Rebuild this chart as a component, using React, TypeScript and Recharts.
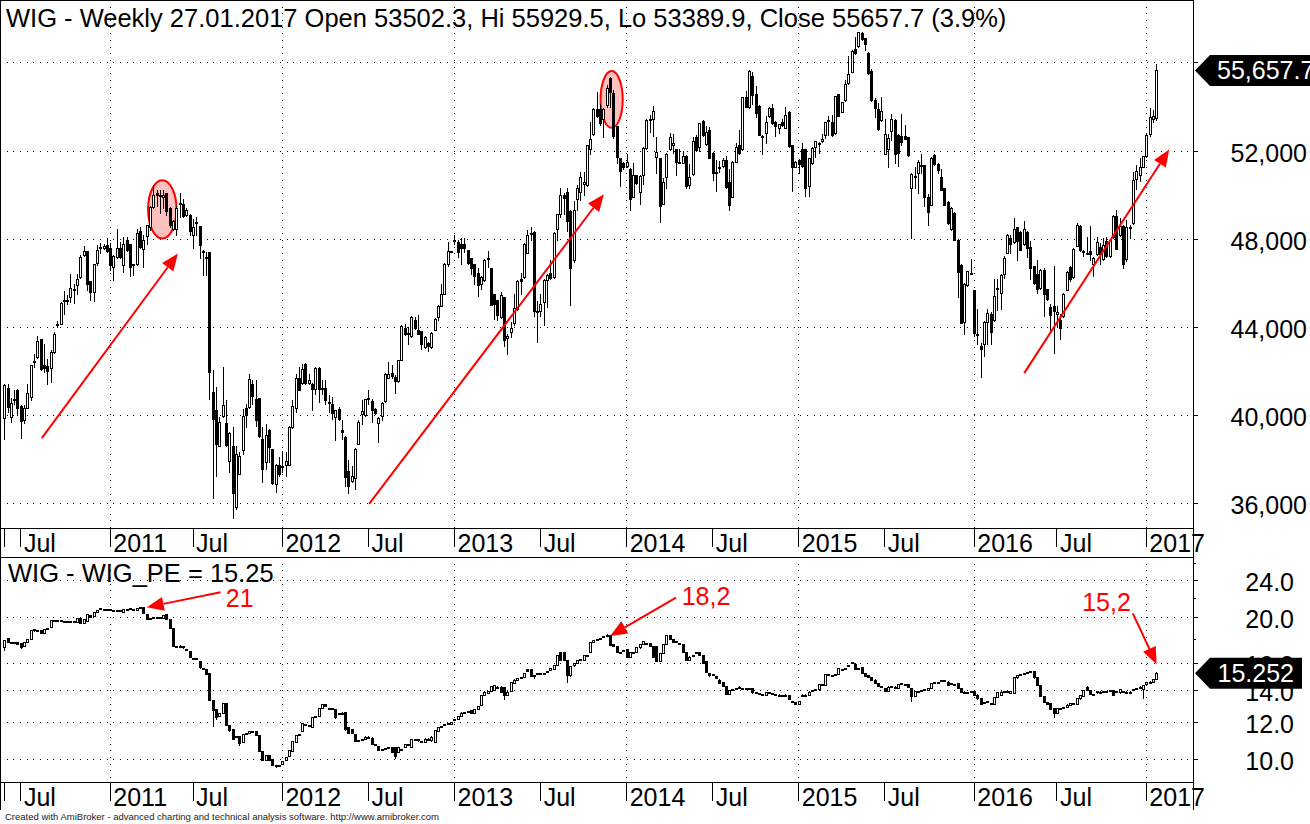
import { Bar, CartesianGrid, ComposedChart, ReferenceArea, ReferenceDot, ReferenceLine, XAxis, YAxis } from "recharts";

// weekly candles: open, high, low, close
const bars2010 = [
  [39900,41450,38960,41410],[41270,41450,40170,40400],[39940,40800,39710,40590],[40740,41150,40550,40770],[41150,41200,40020,40370],[40430,40470,38990,39760],[39820,40500,39670,40370],[40370,41450,40350,41030],
  [40850,42320,40700,42290],[42500,42820,42210,42470],[42660,43620,42630,43410],[43470,43500,42060,42120],[42320,43270,41980,42150],[42270,42590,41450,42030],[42180,42970,41530,42910],[42890,43800,42850,43690],
  [44130,44300,44030,44160],[44180,45160,44150,45130],[45230,45660,44630,45250],[45250,45460,45090,45230],[45390,46420,45160,45810],[45710,45990,45120,45730],[45920,46450,45510,46220],[46300,47280,46270,47220],
  [47280,47690,47230,47490],[47450,47460,45720,45960],[46100,46110,45240,45620],[45620,46870,45210,46860],[46930,47730,46830,47510],[47620,47840,47360,47640],[47630,47780,47580,47720],[47750,48040,47430,47460],
];
const bars2011 = [
  [47630,47840,46600,46840],[46750,47310,46140,47260],[47200,48490,47170,47630],[47630,47880,47170,47200],[46840,48110,46520,47810],[47990,48110,47480,47510],[47780,47810,46330,46750],[46860,46900,46370,46850],
  [46870,48490,46830,48310],[48370,48570,47610,47660],[47570,48190,46750,47990],[48160,48640,47780,48630],[48540,49500,48410,49470],[49470,50460,49440,50000],[50120,50230,49500,50000],[50000,50260,49200,50010],
  [49900,50230,49400,49990],[50080,50110,49090,49290],[49440,49470,48570,48640],[48490,48870,48440,48840],[48490,49500,48190,49440],[49610,50110,49020,49630],[49620,49810,49020,49060],[49090,49440,49050,49350],
  [49120,49170,48190,48380],[48190,48940,47630,48540],[48750,49020,48190,48770],[48600,48600,47170,47750],[47460,47510,46400,47490],[47200,47430,46370,47140],[47430,47430,40770,41980],[41090,42090,36260,39870],
  [40270,41300,37290,38700],[38640,39940,38610,39740],[39970,42210,39940,40500],[39680,40700,38650,38680],[37970,39260,37440,39220],[38650,39490,35360,36490],[35860,38650,35780,38250],[37370,38350,37340,38160],
  [38460,40320,38250,40000],[40330,40550,39490,40020],[40400,41880,40370,41680],[41420,41600,40550,40890],[40770,41600,39520,39790],[40790,40790,39060,39080],[38960,39490,36990,37580],[37900,39640,37600,39140],
  [39370,39400,37900,38580],[38500,38500,36920,36950],[36920,37820,36540,37780],[37750,38130,37290,37370],
];
const bars2012 = [
  [37710,38400,37440,37690],[37760,38350,37290,37960],[37760,39520,37750,39490],[39490,40730,39460,40460],[40370,41910,40170,41730],[41730,42210,41150,41180],[41480,42360,41450,42140],[42330,42390,41450,41500],
  [41500,41910,41420,41640],[41420,41490,40280,41200],[41230,42210,41000,42180],[42180,42210,40620,41200],[41240,41610,41000,41210],[41270,41640,40550,40730],[40610,40930,40170,40640],[40550,40850,39870,40120],
  [39940,40280,38880,40240],[40320,40400,39790,39840],[39370,39820,38960,39260],[39060,39070,36800,37220],[37480,37980,36490,36810],[37040,37700,36990,37260],[37190,38540,36690,38500],[38730,39820,38700,39720],
  [40090,40700,39640,40200],[40020,40780,39970,40770],[40760,41150,40550,40790],[40650,40780,39720,40280],[40320,40370,40090,40120],[39670,39940,38810,39910],[39970,40620,39790,40580],[40670,41940,40640,41880],
  [41730,42440,41710,41910],[41950,42290,41730,41820],[41760,41830,41030,41560],[41580,42540,41530,42510],[42540,44100,42510,44070],[44000,44180,43650,43690],[43740,44030,43270,43710],[43620,44510,43570,44480],
  [44360,44480,43950,43980],[43910,44560,43690,43720],[43830,43850,43040,43240],[43120,43600,43090,43570],[43300,43350,42940,43150],[43120,43800,43090,43770],[43910,44440,43880,44410],[44480,45010,44360,44980],
  [45000,45960,44970,45540],[45540,46930,45510,46900],[46900,47890,46800,47480],[47440,47480,47420,47460],
];
const bars2013 = [
  [47930,48190,47810,47950],[47890,47960,47200,47430],[47810,48040,46870,47630],[47810,48040,47430,47610],[47540,47540,46900,46930],[47170,47170,46450,46720],[46870,46900,45960,46330],[46490,46680,45420,45950],
  [45990,46330,45770,46300],[46150,47110,46120,47080],[47120,47460,46750,47140],[46690,46720,45010,45040],[45510,45540,44410,45090],[45240,45270,44330,44560],[44480,45620,44450,45490],[45370,45400,43150,43450],
  [43540,43690,42820,43630],[43790,44250,43570,43980],[44210,45540,44100,44900],[44860,46150,44810,46100],[46220,46480,45540,46120],[46300,47840,46270,47810],[47400,48410,47360,48220],[48280,48570,47960,48300],
  [48350,48390,44510,44750],[44760,45210,43350,44740],[44750,45540,44510,45090],[45160,46220,44100,46150],[46150,46450,44930,46400],[46490,47050,46220,46270],[46300,48340,46270,48310],[48450,49170,47960,49130],
  [49140,50310,49020,50000],[50030,50110,49170,49880],[50140,50310,48390,48840],[49290,49320,45030,46700],[47050,49750,46980,49350],[49840,50460,49320,50310],[50150,51060,49780,50810],[50490,51060,50000,50610],
  [50460,52300,50410,52260],[52080,53320,51860,52560],[52760,53940,52730,53890],[53890,54660,53560,53590],[53890,54160,53180,53290],[53440,53940,52620,53890],[54070,55000,54010,54850],[55300,55340,54010,54690],
  [54620,54770,52580,52680],[53130,53140,51470,51740],[51700,51710,50410,51110],[51440,51520,51210,51260],
];
const bars2014 = [
  [51340,51850,51260,51490],[51210,51240,49320,49810],[49930,51440,49900,50940],[50910,50940,50530,50560],[50160,50910,49600,50870],[50940,52170,50530,52140],[52150,53440,52120,53410],[53440,53640,52880,53460],
  [53440,54040,52680,53820],[51740,52650,51020,51940],[51670,51700,48790,49520],[49620,50790,49600,50580],[50810,51930,50350,51870],[52080,52830,52050,52650],[52300,52770,51930,52390],[52080,52110,50910,51520],
  [51510,52120,51440,51490],[51470,52000,51440,51790],[51770,51820,50310,50430],[50460,51410,50310,50840],[50960,52620,50910,52440],[52650,52730,52020,52060],[52200,53290,52020,53260],[53360,53410,52680,52730],
  [52320,53140,52270,52880],[52980,53110,51670,51710],[51900,51940,50690,50990],[51040,51620,50200,51060],[51280,51560,51060,51300],[51340,51710,51290,51620],[51620,51770,50350,50380],[50580,51170,49320,49570],
  [49930,51560,49900,51530],[51530,52380,51500,52170],[52270,52980,51870,51900],[52080,54470,52050,54440],[54470,54740,53980,54010],[53980,55680,53940,55650],[55430,55600,54160,54560],[54590,54950,53560,53740],
  [54040,54070,52710,52740],[52690,52730,51870,52670],[52830,53590,52380,53330],[53600,53980,53560,53940],[53940,54130,53230,53260],[53330,53360,52680,53140],[53030,53240,52830,53210],[53330,53480,53140,53180],
  [53060,53980,53030,53650],[53760,53820,52200,52240],[52270,52300,50200,51290],[51290,51560,51260,51530],
];
const bars2015 = [
  [51620,51650,50990,51400],[52080,52380,51290,51320],[52080,52110,49960,50310],[50410,51700,49970,51670],[51440,52170,51410,52140],[52200,52470,51740,52440],[52370,52410,51900,52390],[52440,52800,52410,52560],
  [52740,53330,52580,53300],[53400,53610,52730,53420],[53300,53640,52700,52740],[52830,54510,52800,54480],[54570,54590,53590,53610],[53790,54240,53760,54210],[54300,55220,54270,55030],[55070,56310,55040,55480],
  [55600,56590,55570,56540],[56620,57160,56400,56450],[56770,57420,56740,57390],[57370,57400,57040,57090],[57120,57150,56590,56840],[56450,56480,55500,55530],[55630,55710,54270,54300],[54320,54390,53560,53970],
  [53890,54200,52950,53000],[53390,54440,53360,53830],[51880,53440,51850,52760],[52120,52800,51290,52580],[52920,53670,52500,53440],[53410,53440,51440,51870],[52740,52770,51340,51900],[52680,53680,52300,52410],
  [52700,53180,52530,52560],[52620,52650,51800,51840],[50310,51000,48080,50970],[50860,51260,50310,50880],[51030,51590,50080,51530],[51370,51850,50990,51350],[51350,51380,49520,49930],[49900,50050,48660,49250],
  [49580,51740,49550,51710],[51840,51870,51370,51410],[51410,51440,50990,51140],[50810,51210,50230,50260],[50310,50340,49550,49580],[49690,49720,48690,48720],[48450,49470,48420,49440],[49200,49230,47960,47990],
  [47990,48020,45390,46520],[46830,46860,44210,44220],[44250,46020,43730,45990],[45920,46580,45870,46550],[46470,47130,46420,46490],
];
const bars2016 = [
  [45690,45720,43600,43750],[43720,44860,43240,43700],[43150,43300,41760,43030],[43270,44280,42730,44250],[44250,44860,43240,44680],[44630,44690,43240,43800],[44330,46220,44300,45430],[45770,46220,44810,45790],
  [45590,46450,44840,46370],[46450,47240,46270,47170],[47390,48260,47360,48220],[48040,48220,47360,47780],[47880,48990,47850,48490],[48540,48570,47080,47930],[48340,48370,47510,47540],[47780,48820,47750,48450],
  [48350,48390,47200,47630],[47660,47930,46220,46680],[46780,46810,45960,46020],[46450,47080,45570,45770],[45800,46660,45770,46630],[46630,46680,44530,45500],[45740,45770,45270,45310],[44930,45090,43880,44560],
  [44980,46780,42850,44750],[44630,44970,44030,44720],[44330,44630,43500,43980],[44510,45570,44480,45540],[45720,46570,45690,46540],[46750,46780,46120,46180],[46300,47610,46270,47580],[47720,48720,47690,48640],
  [48600,48630,47480,47510],[47450,47510,47240,47430],[47390,48110,47330,47370],[47480,48600,47050,47330],[46900,47200,46330,47170],[47330,48110,47300,47860],[47660,47840,46900,47330],[47130,48040,47050,47730],
  [47930,48110,47200,47240],[47240,47990,47200,47960],[48110,49110,48080,49080],[49050,49320,47550,47580],[48190,48980,48160,48610],[48610,48640,46700,46900],[47100,48900,47010,48570],[48530,48640,48040,48550],
  [48720,51060,48690,50710],[50730,51370,50290,51110],[50940,51710,50650,51290],[51290,51800,51260,51770],
];
const bars2017 = [[51770,52770,51740,52710],[52800,53940,52680,53530],[53440,53860,53330,53590],[53502.3,55929.5,53389.9,55657.7]];

// WIG_PE candles: open, close and, where a wick shows, high, low
const pe2010 = [
  [17.35,17.95,17.95,17.1],[18.1,17.75],[17.75,17.75],[17.75,17.7],[17.75,17.6],[17.7,17.35,17.7,17.25],[17.4,17.75],[17.75,18.05],[18,18.8],[18.8,18.9],[18.85,18.8],[18.8,18.55],[18.6,18.9],[18.95,19],[19.1,19.75],[19.75,19.8],
  [19.8,19.8],[19.75,19.7],[19.7,19.65],[19.65,19.65],[19.65,19.6],[19.6,19.65],[19.6,19.95],[20,19.5],[19.5,19.9],[19.7,20.4],[20.3,20.1],[20.15,20.6],[20.55,20.8],[20.9,20.95],[20.9,20.85],[20.85,20.8],
];
const pe2011 = [
  [20.85,20.85],[20.8,20.8],[20.8,20.75],[20.75,20.75],[20.6,20.9],[20.9,20.9],[20.9,20.95],[20.85,20.85],[20.75,21],[21.05,21.1],[21.05,20.45],[20.4,19.85],[19.85,20],[20,20.05],[20.1,20.1],[20.1,20.1],[20,20.3],[20.35,19.9],[19.9,19.05],[19.05,17.4],
  [17.4,17.4],[17.4,17.4,17.55,17.4],[17.4,17.3],[17.15,17.1],[17,16.5],[16.45,16.4],[16.4,16.4],[16.2,15.7],[15.65,15.6],[15.6,15.2],[15.25,13.4],[13.4,12.75,13.4,11.8],[12.8,12.35,12.8,12.2],[12.4,12.55],[12.55,13.2],[13.2,11.85],
  [11.85,11.55],[11.6,11.1],[11.25,11.2],[11.25,10.85,11.25,10.75],[10.9,11.35],[11.35,11.4],[11.4,11.5],[11.5,11.5],[11.5,11.3],[11.3,10.45],[10.45,10],[10,10.25],[10.25,10],[10.05,9.75],[9.75,9.75,9.75,9.65],[9.75,9.75],
];
const pe2012 = [
  [9.8,9.95],[10,10.15],[10.2,10.5],[10.45,10.95],[10.9,11.3],[11.3,11.35],[11.5,11.95],[11.9,11.9],[11.85,11.8],[11.75,12.3],[12.35,12.4],[12.4,12.9],[12.9,13.15],[13.15,13],[12.9,12.9],[12.85,12.85],[12.8,12.3],[12.55,12.55],[12.6,12.6],[12.65,11.6],
  [11.75,11.4],[11.6,11.4],[11.35,10.95],[11,11],[11.05,11.05],[11.1,11.2],[11.2,11.2],[11.15,10.8],[10.8,10.75],[10.7,10.5],[10.55,10.55],[10.6,10.6],[10.6,10.65],[10.65,10.4],[10.65,10.2,10.65,10.1],[10.4,10.65],
  [10.55,10.55],[10.65,10.8],[10.8,10.8],[10.65,11.05],[11.05,11.05],[11.05,11],[10.95,10.95],[10.9,11.1],[11.1,11.1],[11,11.2],[10.9,11.55],[11.5,11.75],[11.75,11.8],[11.9,11.9],[11.95,11.95],[11.9,12.05],
];
const pe2013 = [
  [12.2,12.2],[12.2,12.4],[12.4,12.6],[12.65,12.65],[12.7,12.65],[12.75,12.55],[12.6,12.8],[12.8,13],[13.05,13.7],[13.7,13.95],[13.85,14],[14,14.35],[14.05,14.4],[14.3,14.2],[14.3,13.95],[14.3,13.7,14.3,13.45],[13.75,13.95],[14,14.6],[14.55,14.8],[14.8,14.9],
  [14.95,15],[15,15.25],[15.55,15.45],[15.6,15.05],[15.15,15.05,15.15,14.9],[15.2,15.25],[15.3,15.3],[15.3,15.3],[15.35,15.45],[15.5,15.65],[15.6,15.9],[15.9,16.7],[16.9,16.3],[16.9,16.3],[16.3,15.1,16.3,14.65],[15.1,15.8],
  [15.85,16.05],[16.05,16.3],[16.35,16.35],[16.3,16.65],[16.7,16.7],[16.9,17.75],[17.75,17.95],[18,18],[18.1,18.1],[18.3,18.3],[18.35,18.35,18.45,18.3],[18.35,17.55],[17.6,17.4],[17.4,16.95],[16.95,16.95],[17,17.05],
];
const pe2014 = [
  [17.2,16.5],[16.55,16.95],[16.9,16.9],[16.9,17.3],[17.3,17.6],[17.6,17.85],[17.7,17.7],[17.7,17.45],[17.45,16.55],[17.45,16.2],[16.2,16.85],[16.85,17.6],[17.6,18.4],[18.4,18],[18,17.8],[17.85,17.85],[17.7,17.7],[17.6,16.9],[16.95,16.3],[16.3,16.55],
  [16.65,16.7],[16.85,16.9],[16.9,16.65],[16.65,16.05],[16.2,15.35],[15.3,15.1],[15.2,15.2],[15.05,14.9],[14.8,14.55],[14.6,14.35],[14.35,13.8],[13.8,14.05],[14.1,14.1],[14.2,14.2],[14.3,14.3],[14.2,14.2],
  [14.2,14.2],[14.2,14.2],[14.2,13.9],[13.9,13.9],[13.85,13.85],[13.8,13.8],[13.7,13.9],[13.9,13.9],[13.85,13.85],[13.8,13.8],[13.75,13.75],[13.7,13.7],[13.75,13.75],[13.7,13.45],[13.3,13.3],[13.25,13.15],
];
const pe2015 = [
  [13.15,13.35],[13.75,13.75],[13.75,13.75],[13.75,13.95],[14.05,14.05],[14.1,14.1],[14.1,14.45],[14.5,14.5],[14.4,15.2],[15.2,15.2],[15.15,15.15],[15.2,15.2],[15.2,15.65],[15.6,15.6],[15.65,15.65],[15.9,15.9],[16.1,16.1],[16,15.6],[15.65,15.65],[15.7,15.25],
  [15.25,15.05],[15.1,15],[15,14.75],[14.8,14.55],[14.55,14.35],[14.35,14.35],[14.2,14],[14,14.3],[14.3,14.35],[14.3,14.3],[14.2,14.5],[14.55,14.55],[14.5,14.5],[14.45,14.3],[14.2,13.65,14.2,13.3],[13.65,14],
  [14,14],[14.05,14.05],[14.15,14.15],[14.05,14.2],[14.2,14.55],[14.6,14.6],[14.6,14.6],[14.75,14.75],[14.75,14.75],[14.65,14.4],[14.55,14.55],[14.5,14.5],[14.55,14.2],[14.2,13.95],[13.95,13.95],[13.9,13.9],[14,14],
];
const pe2016 = [
  [14,13.75],[13.75,13.5],[13.5,13.15],[13.25,13.25],[13.3,13.3],[13.2,13.2],[13.15,13.6],[13.6,13.9],[13.7,13.95],[14,14],[14,14],[13.85,14],[13.85,15],[14.95,15.1],[15.2,15.2],[15.3,15.3],[15.35,15.35],[15.45,15.45],[15.45,14.95],[14.95,14.4],
  [14.4,13.65],[13.65,13.25],[13.25,13.15],[13.2,12.8],[12.9,12.55,12.9,12.35],[12.6,12.9],[12.9,12.9],[12.95,12.95],[12.95,13.1],[13.05,13.2],[13.2,13.2],[13.15,13.5],[13.5,13.7],[13.65,14.05],[14.3,14.05],[14.05,13.8],
  [13.8,13.8],[13.9,14],[13.95,13.95],[14,14],[14,14],[14.05,14.05],[14.05,13.7],[14,14],[13.9,14.1],[14,14],[13.95,13.95],[13.95,13.95],[14.05,14.15],[14.2,14.2],[14.2,14.3],[14.1,14.4,14.4,13.5],
];
const pe2017 = [[14.45,14.6],[14.65,14.65],[14.65,14.85],[14.85,15.252,15.33,14.85]];

const priceTicks = [36000, 40000, 44000, 48000, 52000, 56000];
const peTicks = [10, 12, 14, 16, 20, 24];
const peMinorTicks = [18, 22, 26];
const dateTickWeeks = [0, 5, 32, 57, 84, 110, 136, 162, 188, 214, 240, 266, 293, 318, 345];
const dateTickLabels = ["", "Jul", "2011", "Jul", "2012", "Jul", "2013", "Jul", "2014", "Jul", "2015", "Jul", "2016", "Jul", "2017"];
const yearWeeks = [32, 84, 136, 188, 240, 293, 345];

// annotations in chart units: from week, from value, to week, to value
const priceArrows = [[11.3, 38984, 52.4, 47356], [110.2, 36006, 181.1, 50048], [308.1, 41935, 351.9, 52077]];
const priceEllipses = [[43.4, 52, 48037, 50683], [180.1, 186.8, 53058, 55632]];
const peArrows = [[65.3, 22.64, 43, 21.05], [202.9, 22.05, 183, 18.3], [340.9, 20.43, 348.1, 15.94]];
const peNotes = [["21", 66.9, 21.07], ["18,2", 204.6, 21.28], ["15,2", 325.6, 20.7]];

const priceRows = [...bars2010, ...bars2011, ...bars2012, ...bars2013, ...bars2014, ...bars2015, ...bars2016, ...bars2017];
const peRows = [...pe2010, ...pe2011, ...pe2012, ...pe2013, ...pe2014, ...pe2015, ...pe2016, ...pe2017];
const lastWeek = 348;

const priceData = priceRows.map((r, i) => ({
  week: lastWeek - (priceRows.length - 1 - i),
  o: r[0], h: r[1], l: r[2], c: r[3],
}));
const peData = peRows.map((r, i) => ({
  week: lastWeek - (peRows.length - 1 - i),
  o: r[0], c: r[1],
  h: r[2] ?? Math.max(r[0], r[1]) + 0.01,
  l: r[3] ?? Math.min(r[0], r[1]) - 0.01,
}));
const lastClose = 55657.7;
const lastPe = 15.252;

const FONT = "'Liberation Sans', Arial, sans-serif";
const weekDomain = [-1.33, 359.09];

const makeCandle = (isLog: boolean) => (props: any) => {
  const { x, y, width, height, payload } = props;
  const { o, h, l, c } = payload;
  const frac = (v: number) => (isLog ? Math.log(h / v) / Math.log(h / l) : (h - v) / (h - l));
  const yOf = (v: number) => Math.round(y + frac(v) * height);
  const cx = Math.round(x + width / 2);
  const top = yOf(Math.max(o, c));
  const bottom = yOf(Math.min(o, c));
  const up = c >= o;
  return (
    <g shapeRendering="crispEdges">
      <line x1={cx + 0.5} x2={cx + 0.5} y1={yOf(h)} y2={yOf(l) + 1} stroke="#000" />
      <rect
        x={cx - 0.5}
        y={top + 0.5}
        width={2}
        height={Math.max(bottom - top, 1)}
        fill={up ? "#fff" : "#000"}
        stroke="#000"
      />
    </g>
  );
};

const Arrow = (props: any) => {
  const { x1, y1, x2, y2 } = props;
  const a = Math.atan2(y2 - y1, x2 - x1);
  const len = 17;
  const half = 7;
  const bx = x2 - len * Math.cos(a);
  const by = y2 - len * Math.sin(a);
  const px = half * Math.sin(a);
  const py = half * Math.cos(a);
  return (
    <g>
      <line x1={x1} y1={y1} x2={bx} y2={by} stroke="#ff0000" strokeWidth={2} />
      <polygon points={`${x2},${y2} ${bx + px},${by - py} ${bx - px},${by + py}`} fill="#ff0000" />
    </g>
  );
};

const Ellipse = (props: any) => {
  const { x, y, width, height } = props;
  return (
    <ellipse cx={x + width / 2} cy={y + height / 2} rx={width / 2} ry={height / 2} fill="#ffc0c0" stroke="#ff0000" strokeWidth={2} />
  );
};

const DateTick = (props: any) => {
  const { x, y, payload } = props;
  const label = dateTickLabels[dateTickWeeks.indexOf(payload.value)];
  return (
    <g>
      <line x1={x} x2={x} y1={y} y2={y + 19} stroke="#000" shapeRendering="crispEdges" />
      <text x={x + 3} y={y + 24} fontSize={25} fontFamily={FONT} fill="#000">{label}</text>
    </g>
  );
};

const Tag = ({ x, y, right, textX, anchor, text }: any) => (
  <g>
    <polygon
      points={`${x + 2},${y} ${x + 17},${y - 15.5} ${right},${y - 15.5} ${right},${y + 15.5} ${x + 17},${y + 15.5}`}
      fill="#000"
    />
    <text x={textX} y={y + 9} textAnchor={anchor} fontSize={25} fontFamily={FONT} fill="#fff">{text}</text>
  </g>
);

const PriceTick = (props: any) => {
  const { x, y, payload } = props;
  if (payload.value === lastClose) {
    return <Tag x={x} y={y} right={1310} textX={1217} anchor="start" text={lastClose.toLocaleString("en-US")} />;
  }
  return (
    <g>
      <line x1={x} x2={x + 5} y1={y} y2={y} stroke="#000" shapeRendering="crispEdges" />
      <text x={1307} y={y + 10.5} textAnchor="end" fontSize={25} fontFamily={FONT} fill="#000">
        {payload.value.toLocaleString("en-US")}
      </text>
    </g>
  );
};

const PeTick = (props: any) => {
  const { x, y, payload } = props;
  if (payload.value === lastPe) {
    return <Tag x={x} y={y} right={1302} textX={1294} anchor="end" text={String(lastPe)} />;
  }
  if (peMinorTicks.includes(payload.value)) {
    return <line x1={x} x2={x + 3} y1={y} y2={y} stroke="#000" shapeRendering="crispEdges" />;
  }
  return (
    <g>
      <line x1={x} x2={x + 5} y1={y} y2={y} stroke="#000" shapeRendering="crispEdges" />
      <text x={1294} y={y + 10.5} textAnchor="end" fontSize={25} fontFamily={FONT} fill="#000">
        {payload.value.toFixed(1)}
      </text>
    </g>
  );
};

const grid = { stroke: "#000", strokeDasharray: "1 5.67", shapeRendering: "crispEdges" };
const frameLine = { position: "absolute", background: "#000" } as const;
const xAxisLine = { stroke: "#000", shapeRendering: "crispEdges" };

export default function App() {
  return (
    <div style={{ position: "absolute", left: 0, top: 0, width: 1310, height: 824, background: "#fff", overflow: "hidden", fontFamily: FONT }}>
      <div style={{ position: "absolute", left: 0, top: 0 }}>
        <ComposedChart width={1310} height={557} data={priceData} margin={{ top: 0, right: 0, bottom: 0, left: 0 }}>
          <CartesianGrid {...grid} horizontalValues={priceTicks} verticalValues={yearWeeks} />
          <XAxis
            dataKey="week"
            type="number"
            domain={weekDomain}
            allowDataOverflow
            ticks={dateTickWeeks}
            interval={0}
            height={29}
            tickSize={0}
            tickMargin={0}
            tickLine={false}
            tick={DateTick}
            axisLine={xAxisLine}
          />
          <YAxis
            orientation="right"
            width={117}
            domain={[34911, 58854]}
            allowDataOverflow
            ticks={[...priceTicks, lastClose]}
            interval={0}
            tickSize={0}
            tickMargin={0}
            tickLine={false}
            axisLine={false}
            tick={PriceTick}
          />
          {priceEllipses.map((e) => (
            <ReferenceArea key={e[0]} x1={e[0]} x2={e[1]} y1={e[2]} y2={e[3]} shape={Ellipse} ifOverflow="visible" />
          ))}
          <Bar dataKey={(d: any) => [d.l, d.h]} barSize={3} shape={makeCandle(false)} isAnimationActive={false} />
          {priceArrows.map((a) => (
            <ReferenceLine key={a[0]} segment={[{ x: a[0], y: a[1] }, { x: a[2], y: a[3] }]} shape={Arrow} ifOverflow="visible" />
          ))}
        </ComposedChart>
      </div>

      <div style={{ position: "absolute", left: 0, top: 557 }}>
        <ComposedChart width={1310} height={253} data={peData} margin={{ top: 0, right: 0, bottom: 0, left: 0 }}>
          <CartesianGrid {...grid} horizontalValues={peTicks} verticalValues={yearWeeks} />
          <XAxis
            dataKey="week"
            type="number"
            domain={weekDomain}
            allowDataOverflow
            ticks={dateTickWeeks}
            interval={0}
            height={28}
            tickSize={0}
            tickMargin={0}
            tickLine={false}
            tick={DateTick}
            axisLine={xAxisLine}
          />
          <YAxis
            orientation="right"
            width={117}
            scale="log"
            domain={[8.98, 26.89]}
            allowDataOverflow
            ticks={[...peMinorTicks, ...peTicks, lastPe]}
            interval={0}
            tickSize={0}
            tickMargin={0}
            tickLine={false}
            axisLine={false}
            tick={PeTick}
          />
          <Bar dataKey={(d: any) => [d.l, d.h]} barSize={3} shape={makeCandle(true)} isAnimationActive={false} />
          {peArrows.map((a) => (
            <ReferenceLine key={a[0]} segment={[{ x: a[0], y: a[1] }, { x: a[2], y: a[3] }]} shape={Arrow} ifOverflow="visible" />
          ))}
          {peNotes.map((n) => (
            <ReferenceDot
              key={n[0] as string}
              x={n[1] as number}
              y={n[2] as number}
              ifOverflow="visible"
              shape={(p: any) => (
                <text x={p.cx} y={p.cy} fontSize={25} fontFamily={FONT} fill="#ff0000">{n[0]}</text>
              )}
            />
          ))}
        </ComposedChart>
      </div>

      <div style={{ ...frameLine, left: 0, top: 0, width: 1193, height: 1 }} />
      <div style={{ ...frameLine, left: 0, top: 0, width: 1, height: 810 }} />
      <div style={{ ...frameLine, left: 1193, top: 0, width: 1, height: 810 }} />
      <div style={{ ...frameLine, left: 0, top: 557, width: 1193, height: 1 }} />

      <div style={{ position: "absolute", left: 6, top: 3, fontSize: 25.5, lineHeight: "30px", whiteSpace: "nowrap", color: "#000" }}>
        WIG - Weekly 27.01.2017 Open 53502.3, Hi 55929.5, Lo 53389.9, Close 55657.7 (3.9%)
      </div>
      <div style={{ position: "absolute", left: 8, top: 558, fontSize: 25.5, lineHeight: "30px", whiteSpace: "nowrap", color: "#000" }}>
        WIG - WIG_PE = 15.25
      </div>
      <div style={{ position: "absolute", left: 5, top: 811, fontSize: 9.5, lineHeight: "12px", whiteSpace: "nowrap", color: "#222" }}>
        Created with AmiBroker - advanced charting and technical analysis software. http://www.amibroker.com
      </div>
    </div>
  );
}
